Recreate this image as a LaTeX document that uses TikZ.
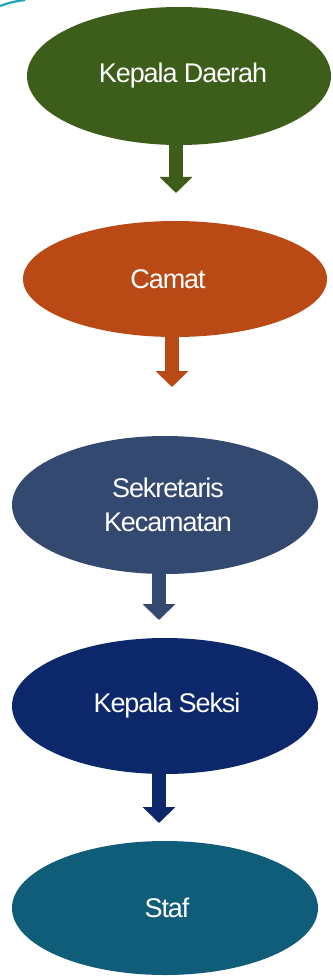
\documentclass[tikz,border=0pt]{standalone}
\usepackage{fontspec}
\setmainfont[LetterSpace=-4]{Liberation Sans}
\usetikzlibrary{shapes.geometric,arrows.meta}
\definecolor{cgreen}{HTML}{3D5E1B}
\definecolor{corange}{HTML}{B94A16}
\definecolor{cslate}{HTML}{34496F}
\definecolor{cnavy}{HTML}{0D286A}
\definecolor{cteal}{HTML}{0F5D78}
\definecolor{cdeco}{HTML}{1AA7B5}
\tikzset{
  box/.style={ellipse, inner sep=0pt, text=white, align=center,
    font=\fontsize{27}{34}\selectfont},
  flowarrow/.style={line width=14pt, -{Triangle[width=32pt,length=16pt]}}
}
\begin{document}
\begin{tikzpicture}[x=1pt,y=-1pt]
\useasboundingbox (0,0) rectangle (332,976);
\fill[white] (0,0) rectangle (332,976);
\draw[cdeco, line width=2.2pt] (0,6) .. controls (8,3) and (16,1) .. (25,0);
\node[box, fill=cgreen, minimum width=304pt, minimum height=138pt] (a) at (179,76) {\hspace*{8pt}Kepala Daerah};
\node[box, fill=corange, minimum width=304pt, minimum height=116pt] (b) at (175,279) {Camat\hspace*{14pt}};
\node[box, fill=cslate, minimum width=306pt, minimum height=138pt] (c) at (165,505) {\hspace*{6pt}Sekretaris\\\hspace*{6pt}Kecamatan};
\node[box, fill=cnavy, minimum width=306pt, minimum height=136pt] (d) at (165,706) {\hspace*{4pt}Kepala Seksi};
\node[box, fill=cteal, minimum width=306pt, minimum height=134pt] (e) at (165,908) {\hspace*{4pt}Staf};
\coordinate (t1) at (176,193);
\coordinate (t2) at (172,387);
\coordinate (t3) at (159,620);
\coordinate (t4) at (159,823);
\draw[flowarrow, cgreen] (t1 |- a.south) -- (t1);
\draw[flowarrow, corange] (t2 |- b.south) -- (t2);
\draw[flowarrow, cslate] (t3 |- c.south) -- (t3);
\draw[flowarrow, cnavy] (t4 |- d.south) -- (t4);
\end{tikzpicture}
\end{document}
